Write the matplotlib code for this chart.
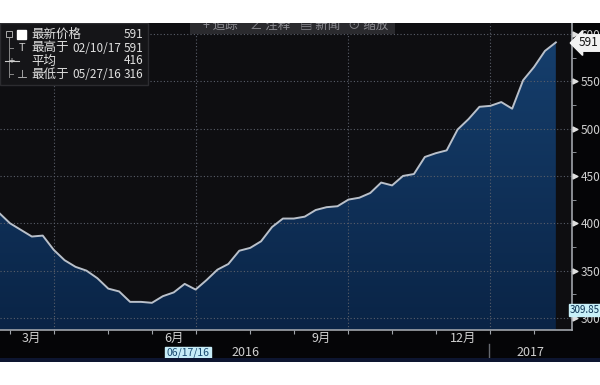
import numpy as np
import pandas as pd
import matplotlib
matplotlib.use('Agg')
import matplotlib.pyplot as plt
from matplotlib.patches import Rectangle, Polygon
from matplotlib.colors import LinearSegmentedColormap
from matplotlib.ticker import MultipleLocator

plt.rcParams['font.family'] = ['Noto Sans CJK SC', 'DejaVu Sans']

# weekly closes (Fridays), 2016-02-19 .. 2017-02-10
dates = pd.date_range('2016-02-19', '2017-02-10', freq='W-FRI')
price = [411, 400, 393, 386, 387, 372, 361, 354, 350, 342,
         331, 328, 317, 317, 316, 323, 327, 336, 330, 340,
         351, 357, 371, 374, 381, 396, 405, 405, 407, 414,
         417, 418, 425, 427, 432, 443, 440, 450, 452, 470,
         474, 477, 499, 510, 523, 524, 528, 521, 551, 565,
         582, 591]
month_names = ['3月', '6月', '9月', '12月']
y_ticks = [300, 350, 400, 450, 500, 550, 600]
legend_labels = ['最新价格', '最高于', '平均', '最低于']
legend_dates = ['', '02/10/17', '', '05/27/16']
legend_values = ['591', '591', '416', '316']

W, H = 600, 385
def fx(x): return x / W
def fy(y): return 1 - y / H

fig = plt.figure(figsize=(6, 3.85), dpi=100, facecolor='#050507')
ax = fig.add_axes([0, fy(330), fx(572), (330 - 23) / H])
ax.set_facecolor('#0e0e11')

idx = np.arange(len(price))
ylo, yhi = 287.3, 611.5
ax.set_xlim(0.084, 52.48)
ax.set_ylim(ylo, yhi)

# gradient fill under the line
cmap = LinearSegmentedColormap.from_list('fill', ['#0a2446', '#16406f'])
grad = np.linspace(0, 1, 256).reshape(-1, 1)
img = ax.imshow(grad, extent=[idx[0], idx[-1], ylo, yhi], aspect='auto',
                cmap=cmap, origin='lower', zorder=1)
verts = list(zip(idx, price)) + [(idx[-1], ylo), (idx[0], ylo)]
poly = Polygon(verts, facecolor='none', edgecolor='none')
ax.add_patch(poly)
img.set_clip_path(poly)

# month ticks at the last week of the previous month
month_pos = [i for i in range(len(dates) - 1) if dates[i + 1].month != dates[i].month]
quarter_pos = [i for i in month_pos if dates[i + 1].month in (1, 4, 7, 10)]

for v in y_ticks:
    ax.axhline(v, color='#5a5f6a', lw=0.8, ls=(0, (1, 2)), zorder=2)
for q in quarter_pos:
    ax.axvline(q, color='#5a5f6a', lw=0.8, ls=(0, (1, 2)), zorder=2)

ax.plot(idx, price, color='#b9c0ca', lw=1.4, zorder=3)

ax.set_xticks(month_pos)
ax.set_xticklabels([])
ax.tick_params(axis='x', direction='out', length=3, color='#a0a4aa')

# month names centred between ticks
label_months = [3, 6, 9, 12]
for name, m in zip(month_names, label_months):
    a = [i for i in month_pos if dates[i + 1].month == m][0]
    b = month_pos[month_pos.index(a) + 1]
    ax.text((a + b) / 2, -8 / 307, name, transform=ax.get_xaxis_transform(),
            ha='center', va='center', color='#d0d0d0', fontsize=9)

ax.yaxis.tick_right()
ax.set_yticks(y_ticks)
ax.set_yticklabels([str(v) for v in y_ticks])
ax.yaxis.set_minor_locator(MultipleLocator(25))
ax.tick_params(axis='y', which='major', direction='out', length=0, pad=6,
               labelcolor='#d0d0d0', labelsize=8.5)
ax.tick_params(axis='y', which='minor', direction='out', length=3, color='#a0a4aa')
ax.scatter([1.006] * len(y_ticks), y_ticks, marker='>', s=12, color='#e0e0e0',
           transform=ax.get_yaxis_transform(), clip_on=False, zorder=5)

for s in ['top', 'left']:
    ax.spines[s].set_visible(False)
for s in ['right', 'bottom']:
    ax.spines[s].set_color('#a0a4aa')
    ax.spines[s].set_linewidth(1.2)

# price tags on the right
fig.text(fx(579), fy(43), '591', ha='left', va='center', fontsize=8.5, color='#111111',
         bbox=dict(boxstyle='larrow,pad=0.15', fc='#f2f2f2', ec='#f2f2f2'))
fig.text(fx(585), fy(310), '309.85', ha='center', va='center', fontsize=7, color='#0a3050',
         bbox=dict(boxstyle='square,pad=0.1', fc='#c8f0f8', ec='#c8f0f8'))

# bottom: date cursor and years
fig.text(fx(188), fy(353), '06/17/16', ha='center', va='center', fontsize=7.5, color='#1a4a70',
         bbox=dict(boxstyle='square,pad=0.12', fc='#c6ecf7', ec='#c6ecf7'))
fig.text(fx(245), fy(352), '2016', ha='center', va='center', fontsize=9, color='#d0d0d0')
fig.text(fx(530), fy(352), '2017', ha='center', va='center', fontsize=9, color='#d0d0d0')
fig.add_artist(plt.Line2D([fx(489), fx(489)], [fy(344), fy(360)], color='#666a70', lw=1))
fig.add_artist(Rectangle((0, fy(362)), 1, 4 / H, transform=fig.transFigure,
                         fc='#0d1530', ec='none', zorder=5))

# toolbar (cut at top)
fig.add_artist(Rectangle((fx(190), fy(34)), fx(205), 14 / H, transform=fig.transFigure,
                         fc='#2a2a2e', ec='none', zorder=6))
for x, t in [(203, '+ 追踪'), (250, '∠ 注释'), (300, '▤ 新闻'), (348, '⊙ 缩放')]:
    fig.text(fx(x), fy(25), t, ha='left', va='center', fontsize=9, color='#8c8c92', zorder=7)

# legend box
fig.add_artist(Rectangle((0, fy(85)), fx(148), 62 / H, transform=fig.transFigure,
                         fc='#151518', ec='#2c2c30', zorder=6))
rows_y = [34, 48, 61, 74]
for lab, dt, val, yy in zip(legend_labels, legend_dates, legend_values, rows_y):
    fig.text(fx(31), fy(yy), lab, ha='left', va='center', fontsize=9, color='#e0e0e0', zorder=8)
    if dt:
        fig.text(fx(72), fy(yy), dt, ha='left', va='center', fontsize=8.5, color='#e0e0e0', zorder=8)
    fig.text(fx(143), fy(yy), val, ha='right', va='center', fontsize=8.5, color='#e0e0e0', zorder=8)
fig.add_artist(Rectangle((fx(17), fy(39)), fx(9), 9 / H, transform=fig.transFigure,
                         fc='white', ec='white', zorder=8))
fig.add_artist(Rectangle((fx(6), fy(37)), fx(6), 6 / H, transform=fig.transFigure,
                         fc='none', ec='#aaaaaa', lw=0.7, zorder=8))
fig.add_artist(plt.Line2D([fx(9), fx(9)], [fy(38), fy(77)], color='#888888', lw=0.7, zorder=8))
for yy in [48, 74]:
    fig.add_artist(plt.Line2D([fx(9), fx(13)], [fy(yy), fy(yy)], color='#888888', lw=0.7, zorder=8))
fig.text(fx(22), fy(48), 'T', ha='center', va='center', fontsize=8, color='#cccccc', zorder=8)
fig.text(fx(22), fy(74), '⊥', ha='center', va='center', fontsize=8, color='#cccccc', zorder=8)
fig.add_artist(plt.Line2D([fx(5), fx(19)], [fy(61), fy(61)], color='#cccccc', lw=0.8, zorder=8))
fig.text(fx(12), fy(61), '+', ha='center', va='center', fontsize=8, color='#cccccc', zorder=8)

# white margins of the screenshot
fig.add_artist(Rectangle((0, fy(23)), 1, 23 / H, transform=fig.transFigure,
                         fc='white', ec='none', zorder=20))
fig.add_artist(Rectangle((0, 0), 1, 23 / H, transform=fig.transFigure,
                         fc='white', ec='none', zorder=20))

fig.savefig('out.png', dpi=100, facecolor=fig.get_facecolor())
